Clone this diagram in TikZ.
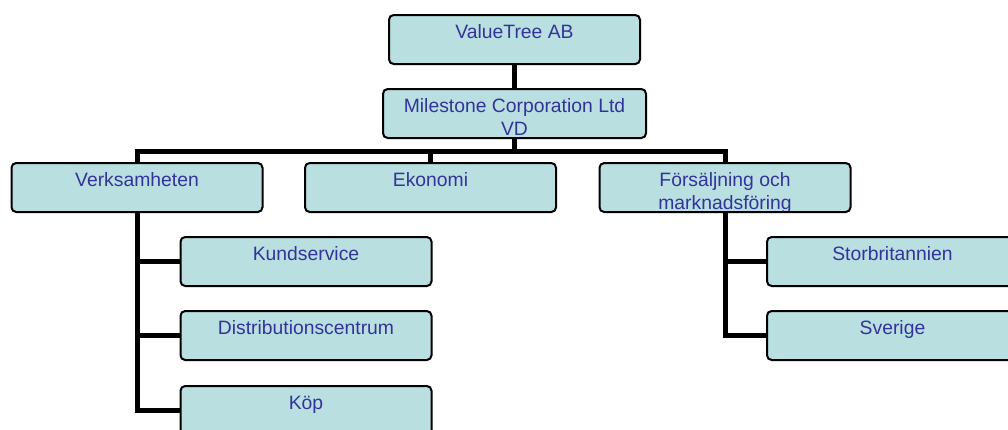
\documentclass[tikz,border=0pt]{standalone}
\usepackage{fontspec}
\setmainfont{Liberation Sans}
\usetikzlibrary{positioning}

\definecolor{boxfill}{RGB}{185,223,225}
\definecolor{boxtext}{RGB}{51,51,153}

\tikzset{
  unit/.style={draw=black, line width=1.5pt, rounded corners=3.5pt, fill=boxfill,
    minimum width=188.25pt, minimum height=36.75pt, inner sep=0pt, outer sep=0pt,
    path picture={\node[anchor=base, inner sep=0pt, text=boxtext,
      font=\fontsize{14.5}{17.5}\selectfont]
      at ([yshift=-17.25pt]path picture bounding box.north)
      {\begin{tabular}[t]{@{}c@{}}#1\end{tabular}};}},
  link/.style={line width=3.75pt}
}

\begin{document}
\begin{tikzpicture}[x=0.75pt, y=-0.75pt]
    \useasboundingbox (0,0) rectangle (1008,429);
    \clip (0,0) rectangle (1008,429);
    % top of the tree
    \node [unit={ValueTree AB}] (owner) at (514.5,39.5) {};
    \node [unit={Milestone Corporation Ltd\\VD}, minimum width=197.25pt] (vd) at (514.5,113.5) {};
    \coordinate (bus) at (0,151);
    % departments
    \node [unit={Verksamheten}] (ops) at (137,187.5) {};
    \node [unit={Ekonomi}] (eko) at (430.5,187.5) {};
    \node [unit={Försäljning och\\marknadsföring}] (sales) at (725,187.5) {};
    % sub units
    \node [unit={Kundservice}] (kund) at (306,261.5) {};
    \node [unit={Distributionscentrum}, below=18.75pt of kund] (dist) {};
    \node [unit={Köp}, below=19.5pt of dist] (kop) {};
    \node [unit={Storbritannien}] (uk) at (892.5,261.5) {};
    \node [unit={Sverige}, below=18.75pt of uk] (se) {};
    % connectors
    \draw [link] (owner) -- (vd);
    \draw [link] (vd.south) -- (vd.south |- bus);
    \draw [link] (ops.north) -- (ops.north |- bus) -- (sales.north |- bus) -- (sales.north);
    \draw [link] (eko.north) -- (eko.north |- bus);
    \draw [link] (ops.south) |- (kund.west);
    \draw [link] (ops.south) |- (dist.west);
    \draw [link] (ops.south) |- (kop.west);
    \draw [link] (sales.south) |- (uk.west);
    \draw [link] (sales.south) |- (se.west);
\end{tikzpicture}
\end{document}
